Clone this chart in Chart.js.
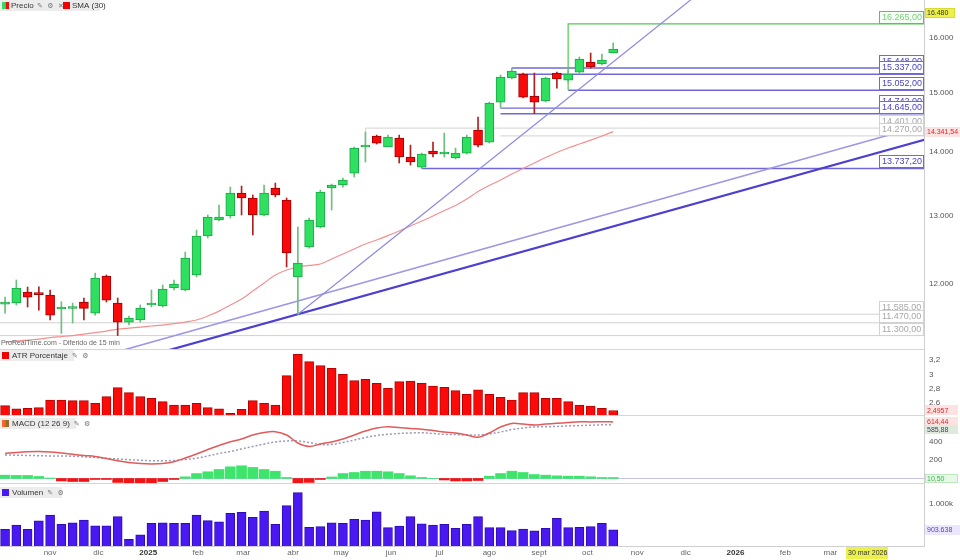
<!DOCTYPE html>
<html><head><meta charset="utf-8">
<script src="https://cdn.jsdelivr.net/npm/chart.js@4.4.1/dist/chart.umd.min.js"></script>
<style>
html,body{margin:0;padding:0;background:#fff;}
#wrap{position:relative;width:960px;height:560px;overflow:hidden;background:#fff;}
canvas{position:absolute;left:0;}
</style></head><body>
<div id="wrap">
<canvas id="cMain" width="960" height="350" style="top:0px"></canvas>
<canvas id="cAtr" width="960" height="66" style="top:350px"></canvas>
<canvas id="cMacd" width="960" height="68" style="top:416px"></canvas>
<canvas id="cVol" width="960" height="76" style="top:484px"></canvas>
</div>
<script>
// ---------------- DATA ----------------
const firstWeek = '2024-10-04';   // date of first weekly bar
const opens  = [11724,11738,11890,11872,11849,11656,11663,11752,11601,12115,11738,11480,11507,11711,11697,11946,11918,12129,12695,12934,12995,13348,13271,13010,13427,13240,12101,12532,12829,13427,13474,13664,14086,14268,14086,14234,13922,13760,14020,13971,13906,13987,14368,14168,14846,15269,15340,14951,14864,15358,15233,15376,15557,15521,15722];
const highs  = [11820,12058,11960,11964,11918,11756,11738,11807,12157,12129,11807,11561,11711,11918,11989,12058,12459,12784,13010,13163,13442,13458,13318,13474,13505,13271,12829,12964,13395,13490,13585,14086,14334,14284,14284,14284,14118,13987,14168,14318,14069,14284,14588,14846,15322,15448,15358,15358,15286,15376,15412,15649,15722,15704,15907];
const lows   = [11601,11711,11683,11642,11507,11329,11467,11507,11574,11752,11300,11440,11480,11683,11683,11918,11904,12101,12665,12919,12964,13010,12710,12995,13287,12243,11585,12517,12814,13086,13442,13601,13841,14135,14086,13825,13792,13737.2,13922,13922,13890,13971,14086,14151,14742,15251,14916,14645,14846,15091,15197,15358,15448,15503,15722];
const closes = [11752,11946,11820,11853,11574,11683,11683,11665,12086,11779,11480,11534,11669,11738,11932,12002,12372,12695,12980,12980,13348,13271,13010,13348,13318,12445,12300,12934,13364,13474,13553,14069,14119,14151,14251,13922,13841,13971,13971,14003,13987,14251,14118,14829,15286,15394,14933,14846,15269,15251,15340,15612,15467,15594,15795];
const sma30  = [11215,11228,11241,11254,11274,11287,11300,11320,11340,11360,11386,11400,11413,11427,11440,11460,11480,11507,11561,11628,11711,11793,11904,12015,12129,12200,12243,12265,12286,12357,12430,12503,12576,12635,12701,12769,12844,12919,12995,13078,13155,13255,13371,13466,13553,13648,13736,13825,13914,13996,14069,14135,14201,14268,14341.54];
const atrPct = [2.563,2.517,2.526,2.535,2.642,2.642,2.633,2.633,2.596,2.689,2.814,2.744,2.689,2.665,2.619,2.572,2.572,2.596,2.535,2.517,2.456,2.512,2.633,2.596,2.572,2.981,3.279,3.177,3.121,3.084,3.000,2.912,2.930,2.874,2.805,2.898,2.907,2.874,2.837,2.819,2.772,2.721,2.782,2.721,2.679,2.642,2.744,2.744,2.665,2.665,2.619,2.572,2.558,2.526,2.4957];
const macdLine   = [272,283,291,293,288,277,263,250,239,217,193,174,163,158,163,183,223,266,315,359,400,429,473,500,509,473,386,348,375,397,429,473,516,549,563,554,543,536,522,505,495,473,448,495,560,598,592,582,592,600,609,617,614,617,614.44];
const macdSignal = [255,253,250,248,245,245,242,236,228,220,212,204,198,193,193,196,207,220,245,272,293,321,348,375,397,408,408,391,370,370,391,418,446,467,480,489,495,497,489,480,477,473,473,484,505,533,549,560,562,566,571,575,579,583,585.88];
const macdHist   = [36,33,33,22,5,-27,-33,-33,-11,-11,-43,-54,-60,-54,-33,-11,18,54,73,98,127,138,120,98,79,11,-49,-43,-11,16,54,65,79,79,73,54,29,11,2,-16,-27,-27,-22,25,54,79,65,43,36,29,25,25,18,11,10.5];
const volume = [906000,922000,906000,937000,959000,924000,930000,940000,919000,919000,953000,869000,885000,928000,930000,928000,928000,959000,938000,934000,965000,969000,950000,974000,924000,994000,1042000,913000,916000,930000,928000,943000,940000,971000,912000,918000,953000,926000,922000,924000,910000,924000,953000,912000,912000,901000,907000,900000,910000,947000,912000,913000,916000,928000,903638];

const priceTicks = [12000,13000,14000,15000,16000];
const atrTicks = [2.6,2.8,3.0,3.2];
const macdTicks = [200,400];
const volTicks = [1000000];
const tickDates  = ['2024-11-01','2024-12-01','2025-01-01','2025-02-01','2025-03-01','2025-04-01','2025-05-01','2025-06-01','2025-07-01','2025-08-01','2025-09-01','2025-10-01','2025-11-01','2025-12-01','2026-01-01','2026-02-01','2026-03-01'];
const tickLabels = ['nov','dic','2025','feb','mar','abr','may','jun','jul','ago','sept','oct','nov','dic','2026','feb','mar'];

// horizontal levels (price, start week index, anchor price of the drop line)
const levelValues = [16265,15448,15337,15052,14742,14645,14401,14270,13737.2,11585,11470,11300];
const levelStart  = [50,45,45,50,44,44,32,44,37,26,-2,-2];
const levelAnchor = [15052,null,null,null,null,null,13841,null,null,null,null,null];
const levelKind   = ['green','blue','blue','blue','blue','blue','gray','gray','blue','gray','gray','gray'];
// trend lines: [weekIndex, price] end points
const trendSteep = [[26,11585],[62,16928]];
const trendUpper = [[10,11090],[79.2,14323]];
const trendLower = [[10,10926],[82,14224]];
// crosshair
const crossDate = '2026-03-30', crossDateLabel = '30 mar 2026', crossPrice = 16480;

// ---------------- HELPERS ----------------
const FONT = '"Liberation Sans", Arial, Helvetica, sans-serif';
const X_MIN = -0.45, X_MAX = 81.6;
const DAY = 86400000;
const dateIdx = d => (Date.parse(d) - Date.parse(firstWeek)) / DAY / 7;
function fmtEs(v, dec){
  const neg = v < 0; const s = Math.abs(v).toFixed(dec);
  let [i, d] = s.split('.');
  i = i.replace(/\B(?=(\d{3})+(?!\d))/g, '.');
  return (neg?'-':'') + (d ? i + ',' + d : i);
}
function fitY(s){ s.width = 36; s.paddingTop = 0; s.paddingBottom = 0; }
function fitX(s){ s.height = 14; s.paddingLeft = 0; s.paddingRight = 0; }
const baseOpts = () => ({ responsive:false, maintainAspectRatio:false, animation:false, devicePixelRatio:1, events:[], layout:{padding:0}, plugins:{legend:{display:false}, tooltip:{enabled:false}} });
const xHidden = () => ({ type:'linear', min:X_MIN, max:X_MAX, offset:false, display:false });
function yAxis(type, min, max, ticksArr, fmt){
  return { type, position:'right', min, max, afterFit: fitY,
    afterBuildTicks: s => { s.ticks = ticksArr.map(v => ({value:v})); },
    grid:{display:false, drawTicks:false}, border:{display:true, color:'#cfcfcf'},
    ticks:{padding:5, color:'#555', font:{size:8, family:FONT}, callback: v => fmt(v)} };
}
function txt(ctx, s, x, y, color, size, bold){
  ctx.font = (bold?'bold ':'') + size + 'px ' + FONT;
  ctx.fillStyle = color; ctx.textAlign = 'left'; ctx.textBaseline = 'middle';
  ctx.fillText(s, x, y);
}
function tag(ctx, s, x, y, w, h, bg, border, color, size){
  ctx.fillStyle = bg; ctx.fillRect(x, Math.round(y - h/2), w, h);
  if (border){ ctx.strokeStyle = border; ctx.lineWidth = 1; ctx.strokeRect(x+0.5, Math.round(y-h/2)+0.5, w-1, h-1); }
  txt(ctx, s, x+2, y+0.5, color, size);
}
function legend(ctx, y, w, sqColors, label){
  ctx.fillStyle = 'rgba(234,234,234,0.92)'; ctx.fillRect(0, y, w, 11);
  ctx.fillStyle = sqColors[0]; ctx.fillRect(2, y+2, 7, 7);
  if (sqColors[1]){ ctx.fillStyle = sqColors[1]; ctx.fillRect(5.5, y+2, 3.5, 7); }
  txt(ctx, label, 12, y+6, '#333', 8);
  const w2 = ctx.measureText(label).width;
  ctx.font = '7px "DejaVu Sans"'; ctx.fillStyle = '#777'; ctx.fillText('✎  ⚙', 16 + w2, y+6);
}
function sepLine(ctx, y){ ctx.strokeStyle = '#d6d6d6'; ctx.lineWidth = 1; ctx.beginPath(); ctx.moveTo(0, y); ctx.lineTo(924, y); ctx.stroke(); }

const GREEN = '#2fe060', GREEN_EDGE = '#17a845', RED = '#f80a0a', RED_EDGE = '#a00000';
const levelStyle = { blue:{line:'#7068d8', text:'#4a44c0', w:1.4, bg:'#ffffff'}, gray:{line:'#d2d2d2', text:'#a8a8a8', w:1, bg:'#ffffff'}, green:{line:'#52c852', text:'#7ccc7c', w:1.2, bg:'#f6fff6'} };

// ---------------- MAIN PRICE CHART ----------------
const bull = closes.map((c,i) => c >= opens[i]);
const mainSets = [
  { label:'bodies', data: opens.map((o,i) => ({x:i, y:[o, closes[i]]})), backgroundColor: bull.map(b => b?GREEN:RED), borderColor: bull.map(b => b?GREEN_EDGE:RED_EDGE), borderWidth:1, borderSkipped:false, barThickness:9, grouped:false, minBarLength:2, order:0 },
  { label:'wicks', data: lows.map((l,i) => ({x:i, y:[l, highs[i]]})), backgroundColor: bull.map(b => b?'#6cbf7c':'#b02020'), barThickness:1, grouped:false, order:1 },
  { type:'line', label:'SMA', data: sma30.map((v,i) => ({x:i, y:v})), borderColor:'#f29090', borderWidth:1.2, pointRadius:0, tension:0.35, order:5 },
  { type:'line', label:'steep', data: trendSteep.map(p => ({x:p[0], y:p[1]})), borderColor:'#8c88e6', borderWidth:1.2, pointRadius:0, order:4 },
  { type:'line', label:'upper', data: trendUpper.map(p => ({x:p[0], y:p[1]})), borderColor:'#9c98e4', borderWidth:1.6, pointRadius:0, order:4 },
  { type:'line', label:'lower', data: trendLower.map(p => ({x:p[0], y:p[1]})), borderColor:'#4d3fd0', borderWidth:2.2, pointRadius:0, order:4 }
];
levelValues.forEach((v,i) => {
  const st = levelStyle[levelKind[i]];
  const pts = [];
  if (levelAnchor[i] !== null) pts.push({x:levelStart[i], y:levelAnchor[i]});
  pts.push({x:levelStart[i], y:v}, {x:X_MAX+2, y:v});
  mainSets.push({ type:'line', label:'lvl'+i, data:pts, borderColor:st.line, borderWidth:st.w, pointRadius:0, order:6 });
});

const mainOverlay = { id:'mainOverlay', afterDraw(chart){
  const ctx = chart.ctx, ys = chart.scales.y;
  ctx.save();
  sepLine(ctx, 349.5);
  // level tags
  levelValues.forEach((v,i) => {
    const st = levelStyle[levelKind[i]];
    const y = Math.round(ys.getPixelForValue(v));
    ctx.fillStyle = st.bg; ctx.fillRect(879, y-13, 45, 13);
    ctx.strokeStyle = st.line; ctx.lineWidth = 1; ctx.strokeRect(879.5, y-12.5, 44, 12);
    txt(ctx, fmtEs(v,2), 882, y-6, st.text, 9);
  });
  // SMA value tag
  tag(ctx, fmtEs(sma30[sma30.length-1],2), 925, ys.getPixelForValue(sma30[sma30.length-1]), 35, 10, '#fde2e2', null, '#e02828', 7);
  // crosshair price tag
  tag(ctx, fmtEs(crossPrice,0), 925, ys.getPixelForValue(crossPrice), 30, 10, '#ecf04a', '#d8dc30', '#333', 7);
  // legend
  ctx.fillStyle = 'rgba(234,234,234,0.92)'; ctx.fillRect(0, 0, 100, 11);
  ctx.fillStyle = GREEN; ctx.fillRect(2, 2, 3.5, 7); ctx.fillStyle = RED; ctx.fillRect(5.5, 2, 3.5, 7);
  txt(ctx, 'Precio', 11, 6, '#333', 8);
  ctx.font = '7px "DejaVu Sans"'; ctx.fillStyle = '#777'; ctx.fillText('✎  ⚙  ✕', 37, 6);
  ctx.fillStyle = '#f00000'; ctx.fillRect(63, 2, 7, 7);
  txt(ctx, 'SMA (30)', 72, 6, '#333', 8);
  // source text
  txt(ctx, 'ProRealTime.com - Diferido de 15 min', 1, 343, '#666', 7);
  ctx.restore();
}};

new Chart(document.getElementById('cMain'), {
  type:'bar', data:{datasets: mainSets},
  options: Object.assign(baseOpts(), { scales:{ x: xHidden(), y: yAxis('logarithmic', 11111, 16727, priceTicks, v => fmtEs(v,0)) } }),
  plugins:[mainOverlay]
});

// ---------------- ATR ----------------
new Chart(document.getElementById('cAtr'), {
  type:'bar',
  data:{datasets:[{ data: atrPct.map((v,i) => ({x:i, y:v})), backgroundColor:'#fb0a0a', borderColor:'#b80000', borderWidth:1, borderSkipped:false, barThickness:9, grouped:false }]},
  options: Object.assign(baseOpts(), { scales:{ x: xHidden(), y: yAxis('linear', 2.4185, 3.339, atrTicks, v => fmtEs(Math.round(v*10)/10, (Math.round(v*10)%10===0)?0:1)) } }),
  plugins:[{ id:'atrOverlay', afterDraw(chart){
    const ctx = chart.ctx, ys = chart.scales.y; ctx.save();
    sepLine(ctx, 65.5);
    legend(ctx, 0, 74, ['#f00000'], 'ATR Porcentaje');
    const last = atrPct[atrPct.length-1];
    tag(ctx, fmtEs(last,4), 925, ys.getPixelForValue(last), 33, 10, '#fde2e2', null, '#e02828', 7);
    ctx.restore();
  }}]
});

// ---------------- MACD ----------------
new Chart(document.getElementById('cMacd'), {
  type:'bar',
  data:{datasets:[
    { type:'line', data: macdLine.map((v,i) => ({x:i, y:v})), borderColor:'#e25a5a', borderWidth:1.5, pointRadius:0, tension:0.35, order:0 },
    { type:'line', data: macdSignal.map((v,i) => ({x:i, y:v})), borderColor:'#9a9ab4', borderWidth:1.5, borderDash:[2,2], pointRadius:0, tension:0.35, order:1 },
    { type:'line', data: [{x:X_MIN, y:0},{x:X_MAX, y:0}], borderColor:'#c4c4ea', borderWidth:1, pointRadius:0, order:3 },
    { data: macdHist.map((v,i) => ({x:i, y:v})), backgroundColor: macdHist.map(v => v >= 0 ? '#3ee46c' : '#f01414'), barThickness:10, grouped:false, order:2 }
  ]},
  options: Object.assign(baseOpts(), { scales:{ x: xHidden(), y: yAxis('linear', -60, 679.3, macdTicks, v => fmtEs(v,0)) } }),
  plugins:[{ id:'macdOverlay', afterDraw(chart){
    const ctx = chart.ctx, ys = chart.scales.y; ctx.save();
    sepLine(ctx, 67.5);
    legend(ctx, 2, 76, ['#f06a2a','#9a6a2a'], 'MACD (12 26 9)');
    const lm = macdLine[macdLine.length-1], ls = macdSignal[macdSignal.length-1], lh = macdHist[macdHist.length-1];
    const ym = ys.getPixelForValue(lm); let ysig = ys.getPixelForValue(ls); if (ysig < ym + 8) ysig = ym + 8;
    tag(ctx, fmtEs(lm,2), 925, ym, 33, 9, '#fde2e2', null, '#e02828', 7);
    tag(ctx, fmtEs(ls,2), 925, ysig, 33, 9, '#dfeadf', null, '#445', 7);
    tag(ctx, fmtEs(lh,2), 925, ys.getPixelForValue(0), 33, 9, '#e6f8e6', '#bfe6bf', '#3cb050', 7);
    ctx.restore();
  }}]
});

// ---------------- VOLUME ----------------
new Chart(document.getElementById('cVol'), {
  type:'bar',
  data:{datasets:[{ data: volume.map((v,i) => ({x:i, y:v})), backgroundColor:'#4a18f0', borderColor:'#2c0cb4', borderWidth:1, borderSkipped:false, barThickness:9, grouped:false }]},
  options: Object.assign(baseOpts(), { scales:{
    x: { type:'linear', min:X_MIN, max:X_MAX, offset:false, afterFit: fitX,
      afterBuildTicks: s => { s.ticks = tickDates.map(d => ({value: dateIdx(d)})); },
      grid:{display:false, drawTicks:false}, border:{display:true, color:'#d0d0d0'},
      ticks:{ autoSkip:false, maxRotation:0, padding:2,
        color: c => /^\d{4}$/.test(tickLabels[c.index]) ? '#333' : '#666',
        font: c => ({size:8, family:FONT, weight: /^\d{4}$/.test(tickLabels[c.index]) ? 'bold' : 'normal'}),
        callback: (v, i) => tickLabels[i] } },
    y: yAxis('linear', 844000, 1074020, volTicks, v => fmtEs(v/1000,0) + 'k')
  }}),
  plugins:[{ id:'volOverlay', afterDraw(chart){
    const ctx = chart.ctx, ys = chart.scales.y, xs = chart.scales.x; ctx.save();
    legend(ctx, 3, 62, ['#4a18f0'], 'Volumen');
    const lv = volume[volume.length-1];
    tag(ctx, fmtEs(lv,0), 925, ys.getPixelForValue(lv), 35, 10, '#ebe6fb', null, '#5a3ad8', 7);
    const cx = xs.getPixelForValue(dateIdx(crossDate));
    ctx.fillStyle = '#ecf04a'; ctx.fillRect(cx - 31, 63, 42, 12);
    txt(ctx, crossDateLabel, cx - 29, 69.5, '#333', 7);
    ctx.restore();
  }}]
});
</script>
</body></html>
